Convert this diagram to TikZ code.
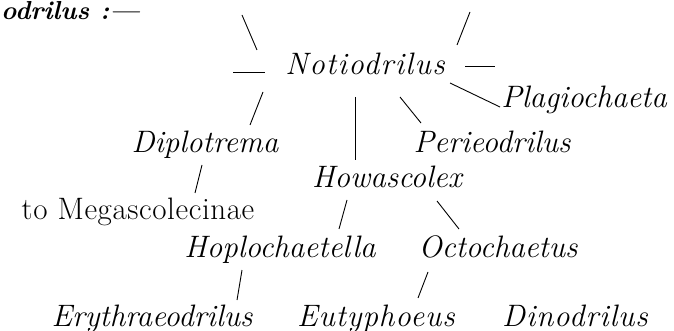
\documentclass[tikz,border=0pt]{standalone}
\usepackage{fontspec}
\setmainfont{Latin Modern Roman}
\newfontfamily\lsA[LetterSpace=2]{Latin Modern Roman}
\newfontfamily\lsB[LetterSpace=3]{Latin Modern Roman}
\newfontfamily\lsC[LetterSpace=4.5]{Latin Modern Roman}
\begin{document}
\begin{tikzpicture}[x=1pt,y=-1pt,
  lab/.style={font=\itshape\fontsize{31}{37}\selectfont, inner sep=0pt, anchor=base},
  labB/.style={font=\lsB\itshape\fontsize{31}{37}\selectfont, inner sep=0pt, anchor=base},
  labC/.style={font=\lsC\itshape\fontsize{31}{37}\selectfont, inner sep=0pt, anchor=base},
  rom/.style={font=\lsA\fontsize{31}{37}\selectfont, inner sep=0pt, anchor=base},
  st/.style={line width=0.9pt}]
\useasboundingbox (0,0) rectangle (674,331);
% title
\node[anchor=base west, inner sep=0pt, font=\bfseries\itshape\fontsize{26}{31}\selectfont] (title) at (1,20) {odrilus :---};
% names (centred at measured centres)
\node[labC] (noti) at (365,75) {Notiodrilus};
\node[lab]  (plag) at (584,108) {Plagiochaeta};
\node[lab]  (peri) at (492,153) {Perieodrilus};
\node[lab]  (dipl) at (205,153) {Diplotrema};
\node[lab]  (howa) at (387,187) {Howascolex};
\node[rom]  (mega) at (138,219) {to Megascolecinae};
\node[lab]  (hopl) at (280,257) {Hoplochaetella};
\node[lab]  (octo) at (498,257) {Octochaetus};
\node[lab]  (eryt) at (152,326) {Erythraeodrilus};
\node[labB] (euty) at (376,326) {Eutyphoeus};
\node[labB] (dino) at (575,326) {Dinodrilus};
% stroke end points
\coordinate (a1) at (242,15); \coordinate (a2) at (257,50);
\coordinate (b1) at (233,72); \coordinate (b2) at (265,72);
\coordinate (c1) at (263,92); \coordinate (c2) at (250,125);
\coordinate (d1) at (470,12); \coordinate (d2) at (457,45);
\coordinate (e1) at (465,66); \coordinate (e2) at (495,66);
\coordinate (f1) at (450,83); \coordinate (f2) at (500,107);
\coordinate (g1) at (355,97); \coordinate (g2) at (355,160);
\coordinate (h1) at (400,97); \coordinate (h2) at (421,123);
\coordinate (i1) at (202,165); \coordinate (i2) at (195,193);
\coordinate (j1) at (347,200); \coordinate (j2) at (339,229);
\coordinate (k1) at (437,201); \coordinate (k2) at (459,229);
\coordinate (l1) at (242,270); \coordinate (l2) at (237,300);
\coordinate (m1) at (428,272); \coordinate (m2) at (418,298);
\foreach \p in {a,b,c,d,e,f,g,h,i,j,k,l,m}
  \draw[st] (\p1) -- (\p2);
\end{tikzpicture}
\end{document}
